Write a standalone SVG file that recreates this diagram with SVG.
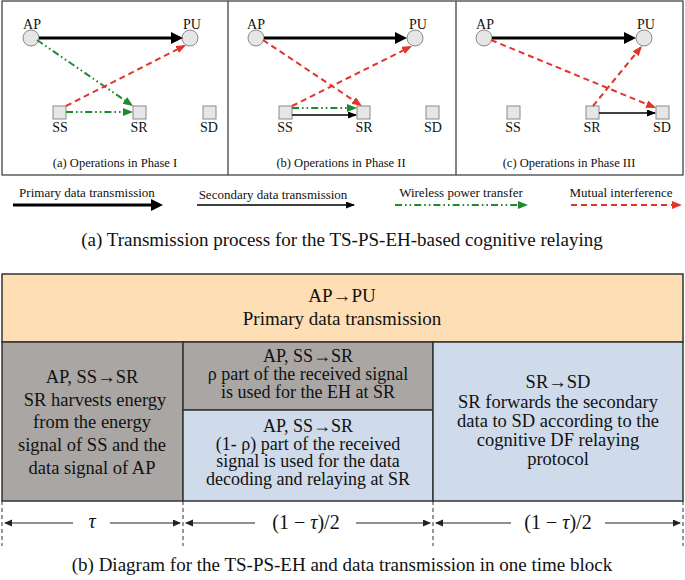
<svg xmlns="http://www.w3.org/2000/svg" width="685" height="580" viewBox="0 0 685 580">
<style>
text{font-family:"Liberation Serif","Times New Roman",serif;fill:#111}
.lbl{font-size:14px;text-anchor:middle}
.cap{font-size:12.5px;text-anchor:middle}
.leg{font-size:13px;text-anchor:middle}
.big{font-size:19px;text-anchor:middle}
.math{font-size:20px;text-anchor:middle}
.cell{font-size:18.5px;text-anchor:middle}
.cell2{font-size:18px;text-anchor:middle}
.nd{fill:#e6e6e6;stroke:#8a8a8a;stroke-width:1}
.frame{fill:none;stroke:#444;stroke-width:1.3}
.thick{stroke:#000;stroke-width:3.2;fill:none;marker-end:url(#hThick)}
.thin{stroke:#000;stroke-width:1.3;fill:none;marker-end:url(#hThin)}
.wpt{stroke:#1e8c2e;stroke-width:2;fill:none;stroke-dasharray:7 3 1.6 3 1.6 3;marker-end:url(#hGreen)}
.intf{stroke:#e3342a;stroke-width:2;fill:none;stroke-dasharray:6 4;marker-end:url(#hRed)}
.tb{stroke:#333;stroke-width:1.5}
.vd{stroke:#333;stroke-width:1;stroke-dasharray:4 3}
.tarr{stroke:#222;stroke-width:1.2;fill:none}
</style>
<defs>
<marker id="hThick" markerUnits="userSpaceOnUse" markerWidth="13" markerHeight="13" refX="8" refY="6" orient="auto"><path d="M0,0 L12,6 L0,12 z" fill="#000"/></marker>
<marker id="hThin" markerUnits="userSpaceOnUse" markerWidth="10" markerHeight="8" refX="8" refY="3.5" orient="auto"><path d="M0,0 L9,3.5 L0,7 z" fill="#000"/></marker>
<marker id="hGreen" markerUnits="userSpaceOnUse" markerWidth="11" markerHeight="9" refX="8" refY="4" orient="auto"><path d="M0,0 L10,4 L0,8 z" fill="#1e8c2e"/></marker>
<marker id="hRed" markerUnits="userSpaceOnUse" markerWidth="11" markerHeight="9" refX="8" refY="4" orient="auto"><path d="M0,0 L10,4 L0,8 z" fill="#e3342a"/></marker>
<marker id="hT" markerUnits="userSpaceOnUse" markerWidth="9" markerHeight="8" refX="7" refY="3.5" orient="auto-start-reverse"><path d="M0,0 L8,3.5 L0,7 z" fill="#222"/></marker>
</defs>

<rect width="685" height="580" fill="#fff"/>

<!-- panel frames -->
<g id="frames">
<rect class="frame" x="2" y="1" width="681" height="174"/>
<line class="frame" x1="228" y1="1" x2="228" y2="175"/>
<line class="frame" x1="456" y1="1" x2="456" y2="175"/>
</g>

<!-- Panel 1 nodes -->
<g id="p1-AP"><circle class="nd" cx="31" cy="38" r="8"/><text class="lbl" x="32" y="29">AP</text></g>
<g id="p1-PU"><circle class="nd" cx="190" cy="38" r="8"/><text class="lbl" x="192" y="29">PU</text></g>
<g id="p1-SS"><rect class="nd" x="53" y="106" width="13" height="13"/><text class="lbl" x="60" y="132">SS</text></g>
<g id="p1-SR"><rect class="nd" x="133" y="106" width="13" height="13"/><text class="lbl" x="139" y="132">SR</text></g>
<g id="p1-SD"><rect class="nd" x="203" y="106" width="13" height="13"/><text class="lbl" x="209" y="132">SD</text></g>
<text class="cap" x="115" y="167">(a) Operations in Phase I</text>

<!-- Panel 2 nodes -->
<g id="p2-AP"><circle class="nd" cx="256" cy="38" r="8"/><text class="lbl" x="256" y="29">AP</text></g>
<g id="p2-PU"><circle class="nd" cx="415" cy="38" r="8"/><text class="lbl" x="418" y="29">PU</text></g>
<g id="p2-SS"><rect class="nd" x="279" y="106" width="13" height="13"/><text class="lbl" x="285" y="132">SS</text></g>
<g id="p2-SR"><rect class="nd" x="357" y="106" width="13" height="13"/><text class="lbl" x="364" y="132">SR</text></g>
<g id="p2-SD"><rect class="nd" x="426" y="106" width="13" height="13"/><text class="lbl" x="433" y="132">SD</text></g>
<text class="cap" x="341" y="167">(b) Operations in Phase II</text>

<!-- Panel 3 nodes -->
<g id="p3-AP"><circle class="nd" cx="484" cy="38" r="8"/><text class="lbl" x="485" y="29">AP</text></g>
<g id="p3-PU"><circle class="nd" cx="644" cy="38" r="8"/><text class="lbl" x="646" y="29">PU</text></g>
<g id="p3-SS"><rect class="nd" x="507" y="106" width="13" height="13"/><text class="lbl" x="513" y="132">SS</text></g>
<g id="p3-SR"><rect class="nd" x="586" y="106" width="13" height="13"/><text class="lbl" x="592" y="132">SR</text></g>
<g id="p3-SD"><rect class="nd" x="656" y="106" width="13" height="13"/><text class="lbl" x="662" y="132">SD</text></g>
<text class="cap" x="569" y="167">(c) Operations in Phase III</text>

<!-- connectors -->
<g id="connectors">
<line class="thick" x1="39" y1="38" x2="179" y2="38"/>
<line class="wpt" x1="37" y1="40" x2="131.4" y2="104.9"/>
<line class="wpt" x1="66" y1="112" x2="131" y2="112"/>
<line class="intf" x1="66" y1="106" x2="184.2" y2="45.9"/>

<line class="thick" x1="264" y1="38" x2="403" y2="38"/>
<line class="intf" x1="263" y1="40" x2="360.3" y2="104.9"/>
<line class="intf" x1="292" y1="106" x2="410.2" y2="46.9"/>
<line class="wpt" x1="292" y1="108" x2="355" y2="108"/>
<line class="thin" x1="292" y1="115" x2="356" y2="115"/>

<line class="thick" x1="492" y1="38" x2="632" y2="38"/>
<line class="intf" x1="491" y1="40" x2="654.2" y2="107.2"/>
<line class="intf" x1="593" y1="106" x2="640.7" y2="47.5"/>
<line class="thin" x1="599" y1="113" x2="655" y2="113"/>
</g>

<!-- legend -->
<g id="legend">
<text class="leg" x="87" y="197">Primary data transmission</text>
<line class="thick" x1="13" y1="205" x2="159" y2="205"/>
<text class="leg" x="273" y="199">Secondary data transmission</text>
<line class="thin" x1="197" y1="205" x2="354" y2="205"/>
<text class="leg" x="461" y="197">Wireless power transfer</text>
<line class="wpt" x1="395" y1="205" x2="526" y2="205"/>
<text class="leg" x="621" y="197">Mutual interference</text>
<line class="intf" x1="571" y1="205" x2="680" y2="205"/>
</g>
<text class="big" x="342" y="246">(a) Transmission process for the TS-PS-EH-based cognitive relaying</text>

<!-- table -->
<g id="cell-primary">
<rect class="tb" x="2" y="274" width="681" height="68" fill="#fedfb5"/>
<text class="big" x="342" y="302">AP→PU</text>
<text class="big" x="342" y="325">Primary data transmission</text>
</g>
<g id="cell-phase1">
<rect class="tb" x="2" y="342" width="181" height="159" fill="#aaa6a4"/>
<text class="cell" x="92" y="383">AP, SS→SR</text>
<text class="cell" x="95" y="406">SR harvests energy</text>
<text class="cell" x="92" y="428">from the energy</text>
<text class="cell" x="92" y="451">signal of SS and the</text>
<text class="cell" x="92" y="474">data signal of AP</text>
</g>
<g id="cell-phase2-eh">
<rect class="tb" x="183" y="342" width="250" height="68" fill="#aaa6a4"/>
<text class="cell2" x="308" y="362">AP, SS→SR</text>
<text class="cell2" x="308" y="380">ρ part of the received signal</text>
<text class="cell2" x="308" y="398">is used for the EH at SR</text>
</g>
<g id="cell-phase2-data">
<rect class="tb" x="183" y="410" width="250" height="91" fill="#cfdbeb"/>
<text class="cell2" x="308" y="432">AP, SS→SR</text>
<text class="cell2" x="308" y="450">(1- ρ) part of the received</text>
<text class="cell2" x="308" y="467">signal is used for the data</text>
<text class="cell2" x="308" y="485">decoding and relaying at SR</text>
</g>
<g id="cell-phase3">
<rect class="tb" x="433" y="342" width="250" height="159" fill="#cfdbeb"/>
<text class="cell" x="558" y="388">SR→SD</text>
<text class="cell" x="558" y="408">SR forwards the secondary</text>
<text class="cell" x="558" y="427">data to SD according to the</text>
<text class="cell" x="558" y="446">cognitive DF relaying</text>
<text class="cell" x="558" y="465">protocol</text>
</g>

<!-- time axis -->
<g id="time-axis">
<line class="vd" x1="2" y1="501" x2="2" y2="546"/>
<line class="vd" x1="183" y1="501" x2="183" y2="546"/>
<line class="vd" x1="433" y1="501" x2="433" y2="546"/>
<line class="vd" x1="683" y1="501" x2="683" y2="546"/>
<line class="tarr" x1="5" y1="523" x2="73" y2="523" marker-start="url(#hT)"/>
<line class="tarr" x1="110" y1="523" x2="180" y2="523" marker-end="url(#hT)"/>
<text class="math" x="92" y="528" font-style="italic">τ</text>
<line class="tarr" x1="186" y1="523" x2="255" y2="523" marker-start="url(#hT)"/>
<line class="tarr" x1="356" y1="523" x2="430" y2="523" marker-end="url(#hT)"/>
<text class="math" x="306" y="529">(1 − <tspan font-style="italic">τ</tspan>)/2</text>
<line class="tarr" x1="436" y1="523" x2="511" y2="523" marker-start="url(#hT)"/>
<line class="tarr" x1="605" y1="523" x2="680" y2="523" marker-end="url(#hT)"/>
<text class="math" x="558" y="529">(1 − <tspan font-style="italic">τ</tspan>)/2</text>
</g>
<text class="big" x="342" y="571">(b) Diagram for the TS-PS-EH and data transmission in one time block</text>
</svg>
